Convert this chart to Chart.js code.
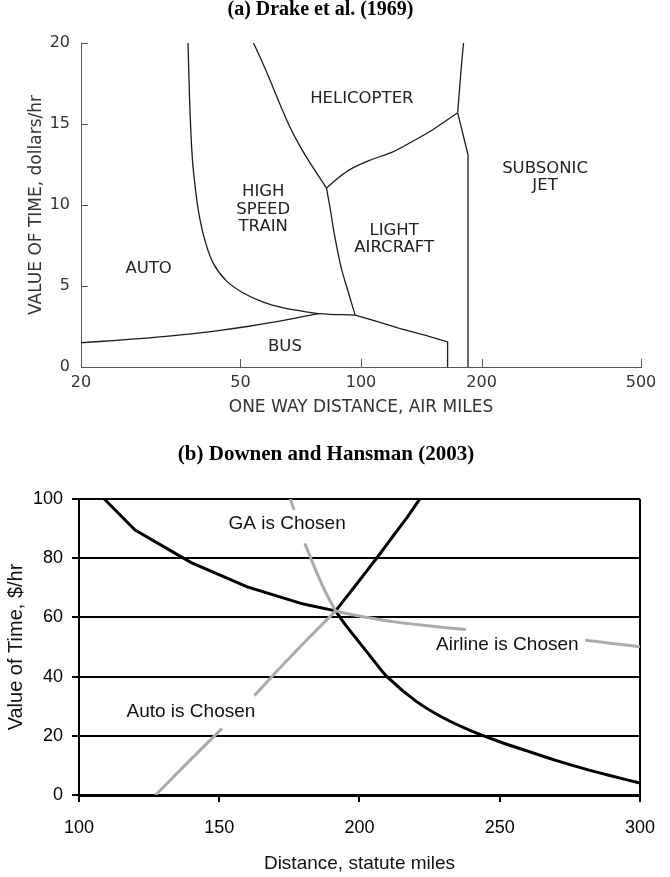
<!DOCTYPE html>
<html>
<head>
<meta charset="utf-8">
<script src="https://cdn.jsdelivr.net/npm/chart.js@4.4.1/dist/chart.umd.min.js"></script>
<style>
  html, body { margin: 0; padding: 0; background: #fff; }
  #wrap { position: relative; width: 670px; height: 877px; }
  .box { position: absolute; left: 0; width: 670px; }
  #boxA { top: 0; height: 420px; }
  #boxB { top: 420px; height: 457px; }
</style>
</head>
<body>
<div id="wrap">
  <div class="box" id="boxA"><canvas id="drakeChart" width="670" height="420"></canvas></div>
  <div class="box" id="boxB"><canvas id="downenChart" width="670" height="457"></canvas></div>
</div>
<script>
// ---- (a) Drake et al. (1969): [air miles, $/hr] ----
const drakeDistTicks = [20, 50, 100, 200, 500]
const autoTrain = [[37.0, 20], [37.4, 16], [37.9, 13], [38.6, 11], [39.5, 9.3], [40.8, 7.8], [42.8, 6.4],
    [46.2, 5.3], [51, 4.55], [57, 4.0], [64, 3.65], [71, 3.45], [78.5, 3.3], [96.7, 3.2]]
const autoBus = [[20, 1.5], [28, 1.75], [36, 2.0], [44, 2.25], [52, 2.5], [60, 2.75], [68, 3.0], [78.5, 3.3]]
const heliTrain = [[53.9, 20], [56.5, 18.9], [59.3, 17.7], [62.8, 16.2], [66.5, 14.8], [70.5, 13.6], [74.6, 12.6], [82, 11.05]]
const trainLight = [[82, 11.05], [84, 9.6], [85.5, 8.4], [87.5, 7.1], [89.5, 6.0], [93, 4.6], [96.7, 3.2]]
const heliLight = [[82, 11.05], [88, 11.7], [94, 12.2], [105, 12.75], [120.5, 13.3], [135, 13.95], [150, 14.6], [163, 15.2], [174.3, 15.7]]
const heliJet = [[174.3, 15.7], [176.9, 17.7], [178.7, 19], [180.3, 20]]
const lightJet = [[174.3, 15.7], [185, 13.1], [185, 0]]
const busLight = [[96.7, 3.2], [110, 2.8], [125.3, 2.37], [145, 1.95], [164.5, 1.55], [164.5, 0]]

const drakeLabels = [
    {text: ['HELICOPTER'], x: 100.5, y: 16.56},
    {text: ['HIGH', 'SPEED', 'TRAIN'], x: 57, y: 9.71},
    {text: ['LIGHT', 'AIRCRAFT'], x: 121, y: 7.9},
    {text: ['SUBSONIC', 'JET'], x: 288, y: 11.7},
    {text: ['AUTO'], x: 29.5, y: 6.08},
    {text: ['BUS'], x: 64.6, y: 1.24},
]

// ---- (b) Downen and Hansman (2003): [statute miles, $/hr] ----
const gaAutoLine = [[109, 100], [120, 89.5], [140, 78.5], [160, 70.3], [180, 64.5], [191.5, 62.2]]
const autoAirlineLine = [[191.5, 62.2], [195, 57.5], [200, 51.5], [205, 45.5], [210, 39.8], [220, 31.8], [230, 26],
    [240, 21.6], [250, 18], [260, 14.8], [270, 11.7], [280, 8.9], [290, 6.4], [300, 4]]
const gaAirlineLine = [[191.5, 62.2], [199, 71.3], [206.5, 80.5], [212, 87.5], [217, 93.8], [221.5, 100]]
const grayAuto = [[127.3, 0], [139, 11.2], [151, 22.5], [156, null], [162.5, 33.5], [171, 42.3], [181, 52.2], [191.5, 62.2]]
const grayGa = [[175.3, 100], [176.7, 96.3], [178, null], [180.5, 85], [183.5, 78], [186.5, 71.3], [189, 66.5], [191.5, 62.2]]
const grayAirline = [[191.5, 62.2], [198, 60.8], [205, 59.6], [213, 58.4], [222, 57.4], [230, 56.6], [238, 55.9],
    [259, null], [280.5, 52.3], [290, 51.2], [300, 50.1]]

const downenLabels = [
    {text: ['GA is Chosen'], x: 174.2, y: 91.6},
    {text: ['Airline is Chosen'], x: 252.7, y: 50.7},
    {text: ['Auto is Chosen'], x: 139.9, y: 28.1},
]

const toPoints = pairs => pairs.map(p => ({x: p[0], y: p[1]}))

const lineSet = (pairs, color, width, tension) => ({
    data: toPoints(pairs),
    showLine: true,
    borderColor: color,
    borderWidth: width,
    pointRadius: 0,
    tension: tension,
    spanGaps: false,
})

// draws multi-line text anchored at data coordinates
const makeLabelPlugin = (items, font, color, lineHeight) => ({
    id: 'regionLabels',
    afterDatasetsDraw(chart) {
        const {ctx, scales: {x, y}} = chart
        ctx.save()
        ctx.font = font
        ctx.fillStyle = color
        ctx.textAlign = 'center'
        ctx.textBaseline = 'middle'
        items.forEach(item => {
            const px = x.getPixelForValue(item.x)
            const py = y.getPixelForValue(item.y)
            const n = item.text.length
            item.text.forEach((line, i) => {
                ctx.fillText(line, px, py + (i - (n - 1) / 2) * lineHeight)
            })
        })
        ctx.restore()
    }
})

// the 1969 figure has short tick marks pointing into the plot
const inwardTicks = {
    id: 'inwardTicks',
    afterDraw(chart) {
        const {ctx, chartArea, scales: {x, y}} = chart
        ctx.save()
        ctx.strokeStyle = '#555'
        ctx.lineWidth = 1
        ctx.beginPath()
        x.ticks.forEach(t => {
            if (t.value === x.min) return
            const px = Math.round(x.getPixelForValue(t.value)) + 0.5
            ctx.moveTo(px, chartArea.bottom)
            ctx.lineTo(px, chartArea.bottom - 8)
        })
        y.ticks.forEach(t => {
            if (t.value === y.min) return
            const py = Math.round(y.getPixelForValue(t.value)) + 0.5
            ctx.moveTo(chartArea.left, py)
            ctx.lineTo(chartArea.left + 7, py)
        })
        ctx.stroke()
        ctx.restore()
    }
}

const drakeInk = '#1c1c1c'
const drakeFont = '"DejaVu Sans", sans-serif'
const serifFont = '"Liberation Serif", "Times New Roman", serif'

new Chart(document.getElementById('drakeChart'), {
    type: 'scatter',
    data: {
        datasets: [
            lineSet(autoTrain, drakeInk, 1.3, 0.4),
            lineSet(autoBus, drakeInk, 1.3, 0.4),
            lineSet(heliTrain, drakeInk, 1.3, 0.3),
            lineSet(trainLight, drakeInk, 1.3, 0.2),
            lineSet(heliLight, drakeInk, 1.3, 0.3),
            lineSet(heliJet, drakeInk, 1.3, 0.3),
            lineSet(lightJet, drakeInk, 1.3, 0),
            lineSet(busLight, drakeInk, 1.3, 0),
        ]
    },
    options: {
        responsive: false,
        animation: false,
        layout: {padding: {left: 0, right: 29, top: 0, bottom: 0}},
        plugins: {
            legend: {display: false},
            tooltip: {enabled: false},
            title: {
                display: true,
                text: '(a) Drake et al. (1969)',
                color: '#000',
                font: {family: serifFont, size: 20, weight: 'bold', lineHeight: 1},
                padding: {top: 0, bottom: 23},
            },
        },
        scales: {
            x: {
                type: 'logarithmic',
                min: 20,
                max: 500,
                afterBuildTicks: scale => { scale.ticks = drakeDistTicks.map(v => ({value: v})) },
                afterFit: scale => { scale.height = 53 },
                grid: {display: false, drawTicks: false},
                border: {display: true, color: '#555', width: 1},
                ticks: {
                    callback: v => String(v),
                    color: '#333',
                    padding: 6,
                    maxRotation: 0,
                    autoSkip: false,
                    font: {family: drakeFont, size: 16},
                },
                title: {
                    display: true,
                    text: 'ONE WAY DISTANCE, AIR MILES',
                    color: '#333',
                    font: {family: drakeFont, size: 17, lineHeight: 1.2},
                    padding: {top: 0, bottom: 2},
                },
            },
            y: {
                min: 0,
                max: 20,
                afterFit: scale => { scale.width = 81 },
                grid: {display: false, drawTicks: false},
                border: {display: true, color: '#555', width: 1},
                ticks: {
                    stepSize: 5,
                    color: '#333',
                    padding: 11,
                    font: {family: drakeFont, size: 16},
                },
                title: {
                    display: true,
                    text: 'VALUE OF TIME, dollars/hr',
                    color: '#333',
                    font: {family: drakeFont, size: 17, lineHeight: 1.2},
                    padding: {top: 26, bottom: 0},
                },
            },
        },
    },
    plugins: [inwardTicks, makeLabelPlugin(drakeLabels, '16.5px ' + drakeFont, '#222', 17.5)],
})

const sansFont = '"Liberation Sans", Arial, sans-serif'
const grayInk = '#ababab'

new Chart(document.getElementById('downenChart'), {
    type: 'scatter',
    data: {
        datasets: [
            lineSet(grayAuto, grayInk, 3, 0),
            lineSet(grayGa, grayInk, 3, 0.1),
            lineSet(grayAirline, grayInk, 3, 0.2),
            lineSet(gaAutoLine, '#000', 3, 0),
            lineSet(autoAirlineLine, '#000', 3, 0.3),
            lineSet(gaAirlineLine, '#000', 3, 0.1),
        ]
    },
    options: {
        responsive: false,
        animation: false,
        layout: {padding: {left: 0, right: 18, top: 0, bottom: 0}},
        plugins: {
            legend: {display: false},
            tooltip: {enabled: false},
            title: {
                display: true,
                text: '(b) Downen and Hansman (2003)',
                color: '#000',
                font: {family: serifFont, size: 21, weight: 'bold', lineHeight: 1},
                padding: {top: 24.5, bottom: 33.5},
            },
        },
        scales: {
            x: {
                type: 'linear',
                min: 100,
                max: 300,
                afterFit: scale => { scale.height = 82 },
                grid: {
                    color: ctx => (ctx.tick && (ctx.tick.value === 100 || ctx.tick.value === 300)) ? '#000' : 'rgba(0,0,0,0)',
                    tickColor: '#000',
                    tickLength: 7,
                    lineWidth: 2,
                },
                border: {display: true, color: '#000', width: 3},
                ticks: {
                    stepSize: 50,
                    color: '#000',
                    padding: 15,
                    maxRotation: 0,
                    font: {family: sansFont, size: 18},
                },
                title: {
                    display: true,
                    text: 'Distance, statute miles',
                    color: '#111',
                    font: {family: sansFont, size: 19, lineHeight: 1.2},
                    padding: {top: 0, bottom: 1.6},
                },
            },
            y: {
                min: 0,
                max: 100,
                afterFit: scale => { scale.width = 79 },
                grid: {color: '#000', tickColor: '#000', tickLength: 7, lineWidth: 2},
                border: {display: true, color: '#000', width: 2},
                ticks: {
                    stepSize: 20,
                    color: '#000',
                    padding: 9,
                    font: {family: sansFont, size: 18},
                },
                title: {
                    display: true,
                    text: 'Value of Time, $/hr',
                    color: '#111',
                    font: {family: sansFont, size: 20, lineHeight: 1.2},
                    padding: {top: 4, bottom: 0},
                },
            },
        },
    },
    plugins: [makeLabelPlugin(downenLabels, '19px ' + sansFont, '#111', 22)],
})
</script>
</body>
</html>
